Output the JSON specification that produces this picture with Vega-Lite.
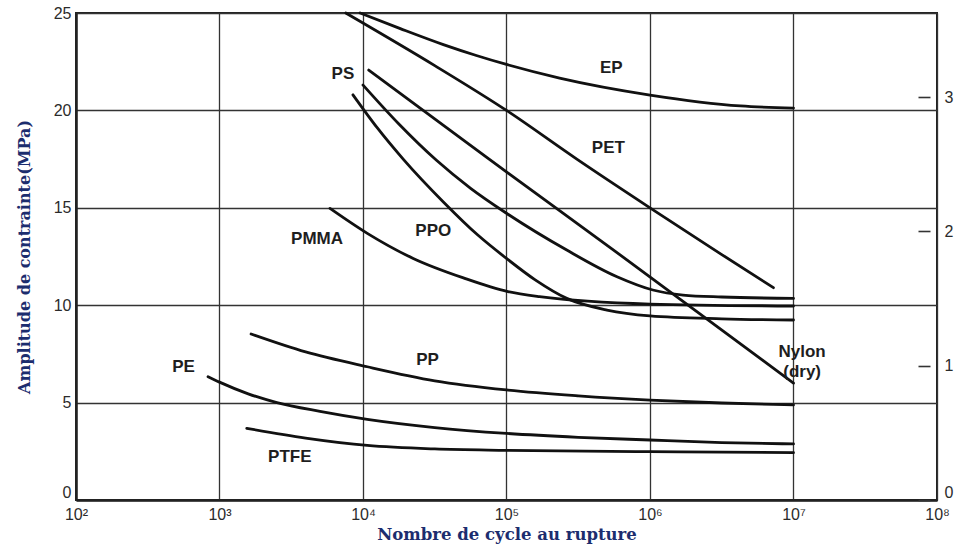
{
  "$schema": "https://vega.github.io/schema/vega-lite/v6.json",
  "width": 861,
  "height": 487,
  "autosize": {"type": "none"},
  "padding": {"left": 76, "top": 13, "right": 19, "bottom": 47},
  "background": "white",
  "config": {
    "view": {"stroke": "#222", "strokeWidth": 2},
    "font": "Liberation Sans"
  },
  "datasets": {
    "curves": [
      {"series": "EP", "n": 9550, "mpa": 25.0},
      {"series": "EP", "n": 18197, "mpa": 24.2},
      {"series": "EP", "n": 36308, "mpa": 23.38},
      {"series": "EP", "n": 61660, "mpa": 22.82},
      {"series": "EP", "n": 100000, "mpa": 22.36},
      {"series": "EP", "n": 234423, "mpa": 21.66},
      {"series": "EP", "n": 1000000, "mpa": 20.79},
      {"series": "EP", "n": 4265795, "mpa": 20.23},
      {"series": "EP", "n": 10000000, "mpa": 20.12},

      {"series": "PET", "n": 7586, "mpa": 25.0},
      {"series": "PET", "n": 31623, "mpa": 22.3},
      {"series": "PET", "n": 100000, "mpa": 20.0},
      {"series": "PET", "n": 309030, "mpa": 17.5},
      {"series": "PET", "n": 1000000, "mpa": 15.0},
      {"series": "PET", "n": 3162278, "mpa": 12.6},
      {"series": "PET", "n": 7244360, "mpa": 10.9},

      {"series": "PS", "n": 10000, "mpa": 21.3},
      {"series": "PS", "n": 17783, "mpa": 19.3},
      {"series": "PS", "n": 32359, "mpa": 17.45},
      {"series": "PS", "n": 56234, "mpa": 16.0},
      {"series": "PS", "n": 100000, "mpa": 14.72},
      {"series": "PS", "n": 263027, "mpa": 12.83},
      {"series": "PS", "n": 588844, "mpa": 11.46},
      {"series": "PS", "n": 1047129, "mpa": 10.78},
      {"series": "PS", "n": 1698244, "mpa": 10.52},
      {"series": "PS", "n": 3162278, "mpa": 10.42},
      {"series": "PS", "n": 10000000, "mpa": 10.35},

      {"series": "PPO", "n": 8511, "mpa": 20.8},
      {"series": "PPO", "n": 12589, "mpa": 19.1},
      {"series": "PPO", "n": 19055, "mpa": 17.5},
      {"series": "PPO", "n": 36308, "mpa": 15.3},
      {"series": "PPO", "n": 63096, "mpa": 13.6},
      {"series": "PPO", "n": 100000, "mpa": 12.4},
      {"series": "PPO", "n": 158489, "mpa": 11.3},
      {"series": "PPO", "n": 263027, "mpa": 10.35},
      {"series": "PPO", "n": 501187, "mpa": 9.75},
      {"series": "PPO", "n": 1000000, "mpa": 9.45},
      {"series": "PPO", "n": 3162278, "mpa": 9.3},
      {"series": "PPO", "n": 10000000, "mpa": 9.24},

      {"series": "PMMA", "n": 5888, "mpa": 14.97},
      {"series": "PMMA", "n": 10715, "mpa": 13.69},
      {"series": "PMMA", "n": 22387, "mpa": 12.4},
      {"series": "PMMA", "n": 50119, "mpa": 11.4},
      {"series": "PMMA", "n": 102329, "mpa": 10.7},
      {"series": "PMMA", "n": 169824, "mpa": 10.44},
      {"series": "PMMA", "n": 1000000, "mpa": 10.06},
      {"series": "PMMA", "n": 10000000, "mpa": 9.96},

      {"series": "Nylon", "n": 10965, "mpa": 22.07},
      {"series": "Nylon", "n": 72444, "mpa": 17.6},
      {"series": "Nylon", "n": 588844, "mpa": 12.7},
      {"series": "Nylon", "n": 10000000, "mpa": 6.0},

      {"series": "PP", "n": 1660, "mpa": 8.52},
      {"series": "PP", "n": 3981, "mpa": 7.6},
      {"series": "PP", "n": 10715, "mpa": 6.84},
      {"series": "PP", "n": 31623, "mpa": 6.12},
      {"series": "PP", "n": 100000, "mpa": 5.65},
      {"series": "PP", "n": 316228, "mpa": 5.35},
      {"series": "PP", "n": 1000000, "mpa": 5.13},
      {"series": "PP", "n": 3162278, "mpa": 4.98},
      {"series": "PP", "n": 10000000, "mpa": 4.88},

      {"series": "PE", "n": 832, "mpa": 6.33},
      {"series": "PE", "n": 1000, "mpa": 6.05},
      {"series": "PE", "n": 1585, "mpa": 5.45},
      {"series": "PE", "n": 2512, "mpa": 5.0},
      {"series": "PE", "n": 5012, "mpa": 4.55},
      {"series": "PE", "n": 10715, "mpa": 4.14},
      {"series": "PE", "n": 31623, "mpa": 3.72},
      {"series": "PE", "n": 100000, "mpa": 3.42},
      {"series": "PE", "n": 316228, "mpa": 3.22},
      {"series": "PE", "n": 1000000, "mpa": 3.08},
      {"series": "PE", "n": 3162278, "mpa": 2.95},
      {"series": "PE", "n": 10000000, "mpa": 2.88},

      {"series": "PTFE", "n": 1549, "mpa": 3.68},
      {"series": "PTFE", "n": 3981, "mpa": 3.18},
      {"series": "PTFE", "n": 10715, "mpa": 2.8},
      {"series": "PTFE", "n": 31623, "mpa": 2.62},
      {"series": "PTFE", "n": 100000, "mpa": 2.55},
      {"series": "PTFE", "n": 1000000, "mpa": 2.48},
      {"series": "PTFE", "n": 10000000, "mpa": 2.43}
    ],
    "labels": [
      {"label": "EP", "n": 537032, "mpa": 22.16},
      {"label": "PET", "n": 512861, "mpa": 18.05},
      {"label": "PS", "n": 7244, "mpa": 21.87},
      {"label": "PMMA", "n": 4786, "mpa": 13.4},
      {"label": "PPO", "n": 30903, "mpa": 13.8},
      {"label": "Nylon\n(dry)", "n": 11481536, "mpa": 7.6},
      {"label": "PP", "n": 28184, "mpa": 7.19},
      {"label": "PE", "n": 562, "mpa": 6.84},
      {"label": "PTFE", "n": 3090, "mpa": 2.22}
    ],
    "ksi": [
      {"ksi": 0},
      {"ksi": 3}
    ]
  },
  "layer": [
    {
      "layer": [
        {
          "data": {"name": "curves"},
          "mark": {"type": "line", "interpolate": "monotone", "stroke": "#111", "strokeWidth": 2.8, "strokeCap": "round"},
          "encoding": {
            "x": {
              "field": "n",
              "type": "quantitative",
              "scale": {"type": "log", "domain": [100, 100000000], "nice": false},
              "axis": {
                "values": [100, 1000, 10000, 100000, 1000000, 10000000, 100000000],
                "labelExpr": "'10' + ['⁰','¹','²','³','⁴','⁵','⁶','⁷','⁸'][round(log(datum.value) / LN10)]",
                "title": "Nombre de cycle au rupture",
                "grid": true,
                "gridColor": "#333",
                "gridWidth": 1.3,
                "ticks": false,
                "domainColor": "#222",
                "domainWidth": 2.5,
                "labelFont": "Liberation Sans",
                "labelFontSize": 16,
                "labelColor": "#2b2b2b",
                "labelPadding": 6,
                "labelFlush": false,
                "labelOverlap": false,
                "titleFont": "DejaVu Serif",
                "titleFontWeight": "bold",
                "titleFontSize": 16.5,
                "titleColor": "#1c2d6e",
                "titlePadding": 4
              }
            },
            "y": {
              "field": "mpa",
              "type": "quantitative",
              "scale": {"domain": [0, 25], "nice": false, "zero": false},
              "axis": {
                "values": [0, 5, 10, 15, 20, 25],
                "title": "Amplitude de contrainte(MPa)",
                "grid": true,
                "gridColor": "#333",
                "gridWidth": 1.3,
                "ticks": false,
                "domainColor": "#222",
                "domainWidth": 2.5,
                "labelFont": "Liberation Sans",
                "labelFontSize": 16,
                "labelColor": "#2b2b2b",
                "labelPadding": 5,
                "labelFlush": false,
                "labelBaseline": {"condition": {"test": "datum.value === 0", "value": "bottom"}, "value": "middle"},
                "titleFont": "DejaVu Serif",
                "titleFontWeight": "bold",
                "titleFontSize": 16,
                "titleColor": "#1c2d6e",
                "titlePadding": 21
              }
            },
            "detail": {"field": "series"}
          }
        },
        {
          "data": {"name": "labels"},
          "mark": {"type": "text", "font": "Liberation Sans", "fontSize": 17, "fontWeight": "bold", "fill": "#1e1e1e", "lineBreak": "\n", "lineHeight": 20, "baseline": "middle", "align": "center"},
          "encoding": {
            "x": {"field": "n", "type": "quantitative"},
            "y": {"field": "mpa", "type": "quantitative"},
            "text": {"field": "label"}
          }
        }
      ]
    },
    {
      "data": {"name": "ksi"},
      "mark": {"type": "point", "opacity": 0},
      "encoding": {
        "y": {
          "field": "ksi",
          "type": "quantitative",
          "scale": {"domain": [0, 3.6258], "nice": false, "zero": false},
          "axis": {
            "orient": "right",
            "values": [0, 1, 2, 3],
            "title": null,
            "grid": false,
            "domain": false,
            "tickSize": 12,
            "tickColor": "#333",
            "tickWidth": 1.6,
            "offset": -19,
            "labelPadding": 14,
            "labelFont": "Liberation Sans",
            "labelFontSize": 16,
            "labelColor": "#2b2b2b",
            "labelFlush": false,
            "labelBaseline": {"condition": {"test": "datum.value === 0", "value": "bottom"}, "value": "middle"}
          }
        }
      }
    }
  ],
  "resolve": {"scale": {"y": "independent"}}
}
